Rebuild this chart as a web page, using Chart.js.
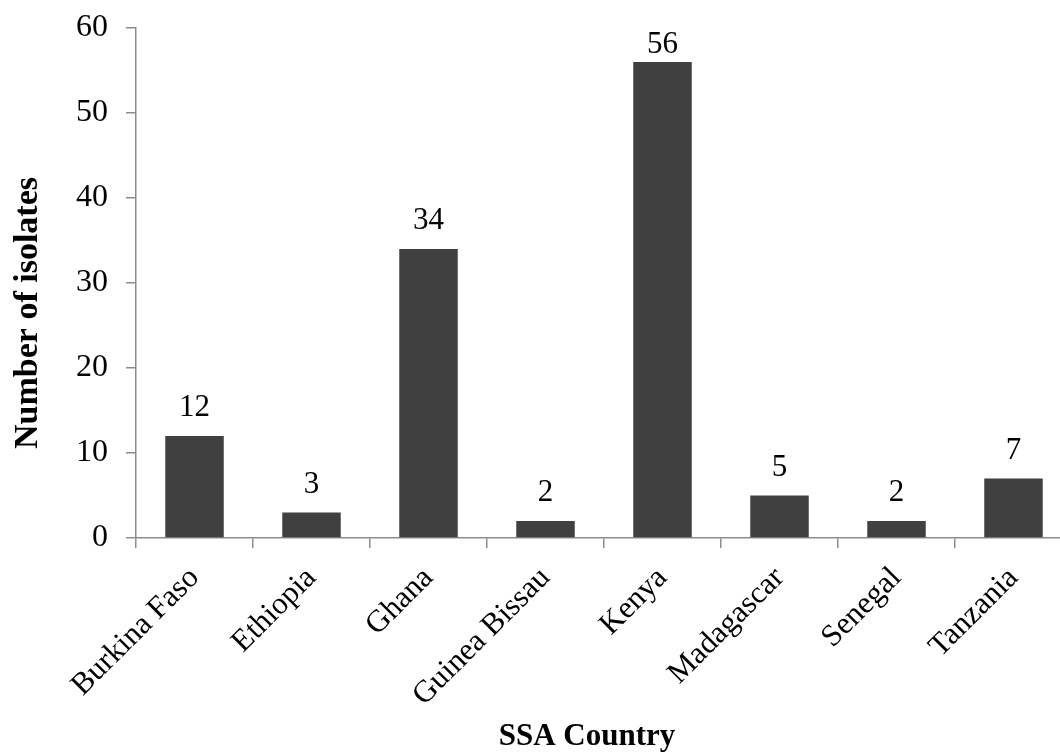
<!DOCTYPE html>
<html>
<head>
<meta charset="utf-8">
<script src="https://cdn.jsdelivr.net/npm/chart.js@4"></script>
<style>
  html, body { margin: 0; padding: 0; background: #fff; overflow: hidden; }
  #wrap { width: 1060px; height: 753px; overflow: hidden; }
  #wrap canvas { display: block; }
</style>
</head>
<body>
<div id="wrap"><canvas id="isolates" width="1080" height="753"></canvas></div>
<script>
var countries = ['Burkina Faso', 'Ethiopia', 'Ghana', 'Guinea Bissau', 'Kenya', 'Madagascar', 'Senegal', 'Tanzania'];
var isolates = [12, 3, 34, 2, 56, 5, 2, 7];
var yTicks = [0, 10, 20, 30, 40, 50, 60];
var xTitle = 'SSA Country';
var yTitle = 'Number of isolates';

var serif = "'Liberation Serif', 'Times New Roman', serif";
var axisGrey = '#8c8c8c';

// value written above each bar
var barValues = {
    id: 'barValues',
    afterDatasetsDraw: function (chart) {
        var ctx = chart.ctx;
        var meta = chart.getDatasetMeta(0);
        ctx.save();
        ctx.font = '31px ' + serif;
        ctx.fillStyle = '#000';
        ctx.textAlign = 'center';
        ctx.textBaseline = 'middle';
        meta.data.forEach(function (bar, i) {
            var y = Math.max(bar.y - 28, chart.chartArea.top + 17);
            ctx.fillText(String(isolates[i]), bar.x, y);
        });
        ctx.restore();
    }
};

// axis titles, centred on the whole plot block rather than the bar area
var axisTitles = {
    id: 'axisTitles',
    afterDraw: function (chart) {
        var ctx = chart.ctx;
        var area = chart.chartArea;
        ctx.save();
        ctx.fillStyle = '#000';
        ctx.textAlign = 'center';
        ctx.textBaseline = 'alphabetic';
        ctx.font = 'bold 31px ' + serif;
        ctx.fillText(xTitle, (area.left + area.right) / 2 - 17, chart.height - 8);
        ctx.font = 'bold 34px ' + serif;
        ctx.translate(37, (area.top + area.bottom) / 2 + 30);
        ctx.rotate(-Math.PI / 2);
        ctx.fillText(yTitle, 0, 0);
        ctx.restore();
    }
};

var ctx = document.getElementById('isolates').getContext('2d');
new Chart(ctx, {
    type: 'bar',
    data: {
        labels: countries,
        datasets: [{
            data: isolates,
            backgroundColor: '#404040',
            borderWidth: 0,
            categoryPercentage: 1,
            barPercentage: 0.5
        }]
    },
    options: {
        responsive: false,
        animation: false,
        events: [],
        layout: { padding: { top: 28, right: 8, left: 0, bottom: 0 } },
        plugins: { legend: { display: false }, tooltip: { enabled: false } },
        scales: {
            x: {
                grid: { drawOnChartArea: false, drawTicks: true, tickLength: 10, color: axisGrey, lineWidth: 1.5 },
                border: { color: axisGrey, width: 1.5 },
                ticks: {
                    color: '#000',
                    font: { family: serif, size: 31 },
                    maxRotation: 45,
                    minRotation: 45,
                    padding: 12,
                    autoSkip: false
                },
                afterFit: function (scale) { scale.height = 215; }
            },
            y: {
                min: 0,
                max: 60,
                afterBuildTicks: function (scale) {
                    scale.ticks = yTicks.map(function (v) { return { value: v }; });
                },
                grid: { drawOnChartArea: false, drawTicks: true, tickLength: 10, color: axisGrey, lineWidth: 1.5 },
                border: { color: axisGrey, width: 1.5 },
                ticks: {
                    color: '#000',
                    font: { family: serif, size: 32 },
                    padding: 18
                },
                afterFit: function (scale) {
                    scale.width = 136;
                    scale.paddingTop = 0;
                    scale.paddingBottom = 0;
                }
            }
        }
    },
    plugins: [barValues, axisTitles]
});
</script>
</body>
</html>
